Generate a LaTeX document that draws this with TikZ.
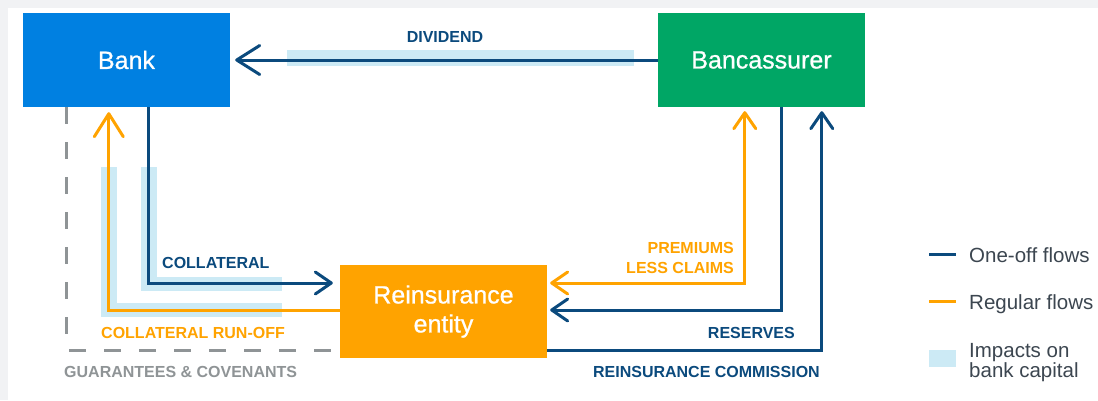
\documentclass[tikz,border=0pt]{standalone}
\usepackage{fontspec}
\setmainfont{Liberation Sans}
\newfontfamily\boxfont[FakeBold=0.8]{Liberation Sans}
\usetikzlibrary{arrows.meta}
\definecolor{navy}{HTML}{0B4A7D}
\definecolor{orng}{HTML}{FFA300}
\definecolor{bankblue}{HTML}{0080E1}
\definecolor{bgreen}{HTML}{00A665}
\definecolor{hilite}{HTML}{CCEAF5}
\definecolor{dashgray}{HTML}{8F9496}
\definecolor{bggray}{HTML}{F1F2F4}
\definecolor{leggray}{HTML}{3C4650}
\tikzset{
  box/.style={minimum width=207bp, minimum height=94bp, inner sep=0pt, text=white,
    font=\boxfont\fontsize{25bp}{29bp}\selectfont, align=center},
  flow/.style={line width=3bp},
  one/.style={flow, draw=navy},
  reg/.style={flow, draw=orng},
  guar/.style={line width=3bp, draw=dashgray, dash pattern=on 17bp off 18bp},
  tipB/.style={-{Straight Barb[length=23bp,width=29bp,round]}},
  tipS/.style={-{Straight Barb[length=16bp,width=22bp,round]}},
  tipSS/.style={{Straight Barb[length=16bp,width=22bp,round]}-{Straight Barb[length=16bp,width=22bp,round]}},
  lab/.style={inner sep=0pt, font=\fontsize{16bp}{20bp}\selectfont\bfseries},
  leg/.style={inner sep=0pt, text=leggray, font=\fontsize{20.5bp}{20.5bp}\selectfont},
}
\begin{document}
\begin{tikzpicture}[x=1bp,y=-1bp]
\useasboundingbox (0,0) rectangle (1098,400);
\fill[bggray] (0,0) rectangle (1098,400);
\fill[white] (8,8) rectangle (1098,400);

% highlights (impacts on bank capital)
\fill[hilite] (287,50) rectangle (634,66);
\fill[hilite] (101,167) rectangle (117,317);
\fill[hilite] (101,303) rectangle (282,317);
\fill[hilite] (141,167) rectangle (157,291);
\fill[hilite] (141,277) rectangle (282,291);

% nodes
\node[box, fill=bankblue] (bank) at (126.5,60) {Bank};
\node[box, fill=bgreen] (banc) at (761.5,60) {Bancassurer};
\node[box, fill=orng, minimum height=93bp] (re) at (443.5,311.5) {Reinsurance\\entity};

% named attachment points
\coordinate (bkG) at ([xshift=44bp]bank.south west);
\coordinate (bkO) at ([xshift=86bp]bank.south west);
\coordinate (bkN) at ([xshift=126bp]bank.south west);
\coordinate (bcO) at ([xshift=87bp]banc.south west);
\coordinate (bcN) at ([xshift=124bp]banc.south west);
\coordinate (bcC) at ([xshift=164bp]banc.south west);

% flows
\draw[one, tipB, shorten >=5bp] (banc.west) -- (bank.east);
\draw[guar] (bkG) |- ([yshift=-38.5bp]re.west);
\draw[one, tipS, shorten >=7bp] (bkN) |- ([yshift=28.5bp]re.west);
\draw[reg, tipB, shorten >=5bp] ([yshift=1.5bp]re.west) -| (bkO);
\draw[reg, tipSS, shorten <=3bp, shorten >=4bp] ([yshift=28.5bp]re.east) -| (bcO);
\draw[one, tipS, shorten >=3bp] (bcN) |- ([yshift=1.5bp]re.east);
\draw[one, tipS, shorten >=4bp] ([yshift=-38.5bp]re.east) -| (bcC);

% labels
\node[lab, text=navy, anchor=base] (ldiv) at (445,42) {DIVIDEND};
\node[lab, text=navy, anchor=base west] (lcol) at (162,268) {COLLATERAL};
\node[lab, text=orng, anchor=base west] (lrun) at (101,338) {COLLATERAL RUN-OFF};
\node[lab, text=dashgray, anchor=base west] (lgua) at (64,377) {GUARANTEES \& COVENANTS};
\node[lab, text=orng, anchor=base east] (lpre) at (734,253) {PREMIUMS};
\node[lab, text=orng, anchor=base east] (lles) at (734,273) {LESS CLAIMS};
\node[lab, text=navy, anchor=base east] (lres) at (795,338) {RESERVES};
\node[lab, text=navy, anchor=base east] (lcom) at (820,377) {REINSURANCE COMMISSION};

% legend
\coordinate (l1a) at (929,254); \coordinate (l1b) at (956,254);
\coordinate (l2a) at (929,301); \coordinate (l2b) at (956,301);
\draw[one] (l1a) -- (l1b);
\draw[reg] (l2a) -- (l2b);
\fill[hilite] (929,350) rectangle (956,367);
\node[leg, anchor=base west] (t1) at (969,262) {One-off flows};
\node[leg, anchor=base west] (t2) at (969,309) {Regular flows};
\node[leg, anchor=base west] (t3) at (969,357) {Impacts on};
\node[leg, anchor=base west] (t4) at (969,377) {bank capital};
\end{tikzpicture}
\end{document}
